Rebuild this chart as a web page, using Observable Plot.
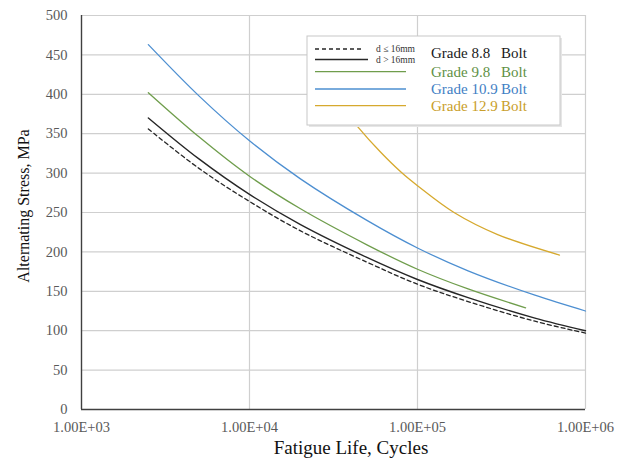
<!DOCTYPE html>
<html>
<head>
<meta charset="utf-8">
<script src="https://cdn.jsdelivr.net/npm/d3@7"></script>
<script src="https://cdn.jsdelivr.net/npm/@observablehq/plot@0.6"></script>
<style>
  html, body { margin: 0; padding: 0; background: #fff; }
  #chart { width: 627px; height: 462px; }
</style>
</head>
<body>
<div id="chart"></div>
<script>
// ---- Data ----
const xTicks = [1e3, 1e4, 1e5, 1e6];
const xTickLabels = ["1.00E+03", "1.00E+04", "1.00E+05", "1.00E+06"];
const yTicks = [0, 50, 100, 150, 200, 250, 300, 350, 400, 450, 500];

const cycles = [2500, 5000, 1e4, 2e4, 5e4, 1e5, 2e5, 5e5, 1e6];
const grade88Small = [356, 306, 264, 227, 187, 159, 137, 112, 97];   // d ≤ 16mm
const grade88Large = [370, 318, 273, 235, 193, 165, 142, 116, 100];  // d > 16mm
const grade109 = [463, 398, 341, 293, 240, 205, 176, 145, 125];

const cycles98 = [2500, 5000, 1e4, 2e4, 5e4, 1e5, 2e5, 4.4e5];
const grade98 = [402, 346, 296, 255, 209, 178, 153, 129];

const cycles129 = [3e4, 4.4e4, 6e4, 8e4, 1e5, 1.65e5, 3e5, 7e5];
const grade129 = [404, 359, 327, 301, 284, 250, 222, 196];

const seriesNames = ["8.8 small", "8.8 large", "9.8", "10.9", "12.9"];
const seriesColors = ["#262626", "#262626", "#6f9d4c", "#4d8fd1", "#d6a92e"];
const legendLabels = ["Grade 8.8", "Grade 9.8", "Grade 10.9", "Grade 12.9"];
const legendColors = ["#1a1a1a", "#5f9145", "#3f80c4", "#c99e2a"];

// build tables
const toRows = (xs, ys, s) => xs.map((x, i) => ({ N: x, S: ys[i], series: s }));
const rows88s = toRows(cycles, grade88Small, seriesNames[0]);
const rows88l = toRows(cycles, grade88Large, seriesNames[1]);
const rows98 = toRows(cycles98, grade98, seriesNames[2]);
const rows109 = toRows(cycles, grade109, seriesNames[3]);
const rows129 = toRows(cycles129, grade129, seriesNames[4]);

const font = "'Liberation Serif', 'Times New Roman', serif";
const curve = "catmull-rom";

const chart = Plot.plot({
  width: 627,
  height: 462,
  marginLeft: 81,
  marginRight: 42,
  marginTop: 15,
  marginBottom: 53,
  style: { fontFamily: font, background: "#fff", overflow: "visible" },
  x: { type: "log", domain: [1e3, 1e6] },
  y: { domain: [0, 500] },
  marks: [
    Plot.gridY(yTicks.filter(d => d > 0), { stroke: "#cfcfcf", strokeOpacity: 1, strokeWidth: 1.2 }),
    Plot.gridX(xTicks.slice(1), { stroke: "#cfcfcf", strokeOpacity: 1, strokeWidth: 1.2 }),
    Plot.line(rows129, { x: "N", y: "S", stroke: seriesColors[4], strokeWidth: 1.3, curve }),
    Plot.line(rows109, { x: "N", y: "S", stroke: seriesColors[3], strokeWidth: 1.3, curve }),
    Plot.line(rows98, { x: "N", y: "S", stroke: seriesColors[2], strokeWidth: 1.3, curve }),
    Plot.line(rows88l, { x: "N", y: "S", stroke: seriesColors[1], strokeWidth: 1.4, curve }),
    Plot.line(rows88s, { x: "N", y: "S", stroke: seriesColors[0], strokeWidth: 1.3, strokeDasharray: "4,3", curve }),
    Plot.ruleX([1e3], { stroke: "#404040", strokeWidth: 1.4 }),
    Plot.ruleY([0], { stroke: "#404040", strokeWidth: 1.4 }),
    Plot.axisX({
      ticks: xTicks,
      tickFormat: d => xTickLabels[xTicks.indexOf(d)],
      tickSize: 0, tickPadding: 12, fontSize: 14.5, color: "#595959", label: null
    }),
    Plot.axisY({
      ticks: yTicks,
      tickSize: 0, tickPadding: 14, fontSize: 14.5, color: "#595959", label: null
    })
  ]
});

document.getElementById("chart").appendChild(chart);

// ---- axis titles ----
const svg = d3.select(chart);
svg.append("text")
  .attr("x", 351).attr("y", 454)
  .attr("text-anchor", "middle")
  .attr("font-family", font).attr("font-size", 19).attr("fill", "#111")
  .text("Fatigue Life, Cycles");
svg.append("text")
  .attr("transform", "translate(29,206) rotate(-90)")
  .attr("text-anchor", "middle")
  .attr("font-family", font).attr("font-size", 16).attr("fill", "#111")
  .text("Alternating Stress, MPa");

// ---- legend ----
const lg = svg.append("g").attr("font-family", font).attr("text-anchor", "start");
lg.append("rect")
  .attr("x", 309).attr("y", 38).attr("width", 253).attr("height", 89)
  .attr("fill", "#e6e6e6");
lg.append("rect")
  .attr("x", 307).attr("y", 36).attr("width", 253).attr("height", 89)
  .attr("fill", "#fff").attr("stroke", "#c8c8c8").attr("stroke-width", 1);

// Grade 8.8 samples
lg.append("line").attr("x1", 315).attr("x2", 364).attr("y1", 49).attr("y2", 49)
  .attr("stroke", seriesColors[0]).attr("stroke-width", 1.3).attr("stroke-dasharray", "4,3");
lg.append("line").attr("x1", 315).attr("x2", 368).attr("y1", 59.5).attr("y2", 59.5)
  .attr("stroke", seriesColors[1]).attr("stroke-width", 1.4);
lg.append("text").attr("x", 376).attr("y", 52).attr("text-anchor", "start")
  .attr("font-size", 9.5).attr("fill", "#333").text("d ≤ 16mm");
lg.append("text").attr("x", 376).attr("y", 63).attr("text-anchor", "start")
  .attr("font-size", 9.5).attr("fill", "#333").text("d > 16mm");

const sampleY = [71.7, 89, 105.7];
const textY = [58, 77.3, 94, 110.7];
[2, 3, 4].forEach((si, k) => {
  lg.append("line").attr("x1", 315).attr("x2", 406)
    .attr("y1", sampleY[k]).attr("y2", sampleY[k])
    .attr("stroke", seriesColors[si]).attr("stroke-width", 1.3);
});
legendLabels.forEach((lab, i) => {
  lg.append("text").attr("x", 431).attr("y", textY[i]).attr("text-anchor", "start")
    .attr("font-size", 15).attr("fill", legendColors[i]).text(lab);
  lg.append("text").attr("x", 501).attr("y", textY[i]).attr("text-anchor", "start")
    .attr("font-size", 15).attr("fill", legendColors[i]).text("Bolt");
});
</script>
</body>
</html>
